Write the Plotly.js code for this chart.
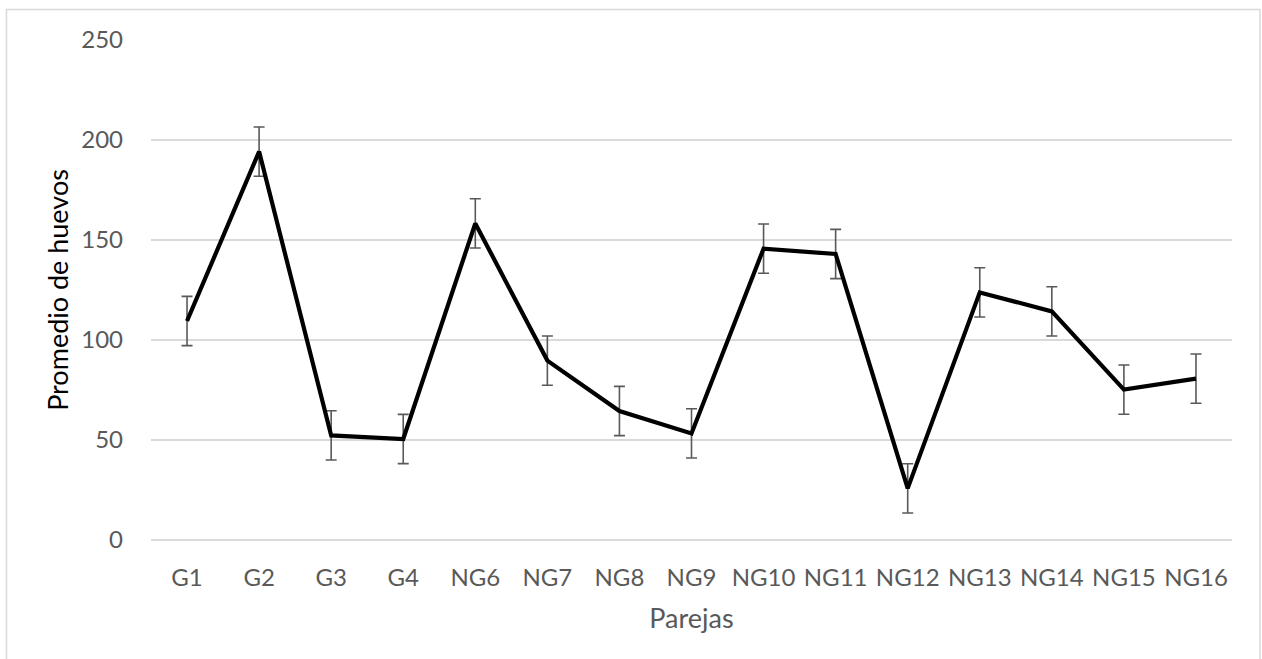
<!DOCTYPE html>
<html>
<head>
<meta charset="utf-8">
<script src="https://cdn.plot.ly/plotly-3.0.1.min.js"></script>
<style>html,body{margin:0;padding:0;background:#fff;}#chart{width:1262px;height:659px;}</style>
</head>
<body>
<div id="chart"></div>
<script>
const categories = ["G1","G2","G3","G4","NG6","NG7","NG8","NG9","NG10","NG11","NG12","NG13","NG14","NG15","NG16"];
const promedio = [109.5, 194.2, 52.3, 50.5, 158.3, 89.7, 64.5, 53.3, 145.7, 143, 25.8, 123.8, 114.3, 75.2, 80.7];
const errores = [12.3, 12.3, 12.3, 12.3, 12.3, 12.3, 12.3, 12.3, 12.3, 12.3, 12.3, 12.3, 12.3, 12.3, 12.3];
const yTicks = [0, 50, 100, 150, 200, 250];

const trace = {
  x: categories,
  y: promedio,
  type: 'scatter',
  mode: 'lines',
  line: {color: '#000000', width: 4.2},
  error_y: {type: 'data', array: errores, visible: true, color: '#595959', thickness: 1.6, width: 5.5},
  hoverinfo: 'x+y'
};

const layout = {
  width: 1262, height: 659,
  margin: {l: 151, r: 30, t: 40, b: 119},
  paper_bgcolor: '#ffffff', plot_bgcolor: '#ffffff',
  font: {family: 'Lato, Carlito, Calibri, sans-serif', color: '#595959', size: 24},
  showlegend: false,
  xaxis: {
    type: 'category',
    range: [-0.5, categories.length - 0.5],
    showgrid: false, zeroline: false, showline: false,
    ticks: '', ticklabelstandoff: 21,
    tickfont: {size: 24, color: '#595959'},
    title: {text: 'Parejas', font: {size: 27, color: '#595959'}, standoff: 19}
  },
  yaxis: {
    range: [0, 250],
    tickvals: yTicks,
    showgrid: true, gridcolor: '#d9d9d9', gridwidth: 1.5,
    zeroline: true, zerolinecolor: '#d9d9d9', zerolinewidth: 1.5,
    showline: false, ticks: '', ticklabelstandoff: 27,
    tickfont: {size: 24, color: '#595959'},
    title: {text: 'Promedio de huevos', font: {size: 27, color: '#000000'}, standoff: 4}
  },
  shapes: [{
    type: 'rect', xref: 'paper', yref: 'paper',
    x0: -0.1337, x1: 1.0259, y0: -0.3, y1: 1.061,
    line: {color: '#d9d9d9', width: 1.5}, fillcolor: 'rgba(0,0,0,0)', layer: 'below'
  }]
};

Plotly.newPlot('chart', [trace], layout, {displayModeBar: false, staticPlot: true});
</script>
</body>
</html>
